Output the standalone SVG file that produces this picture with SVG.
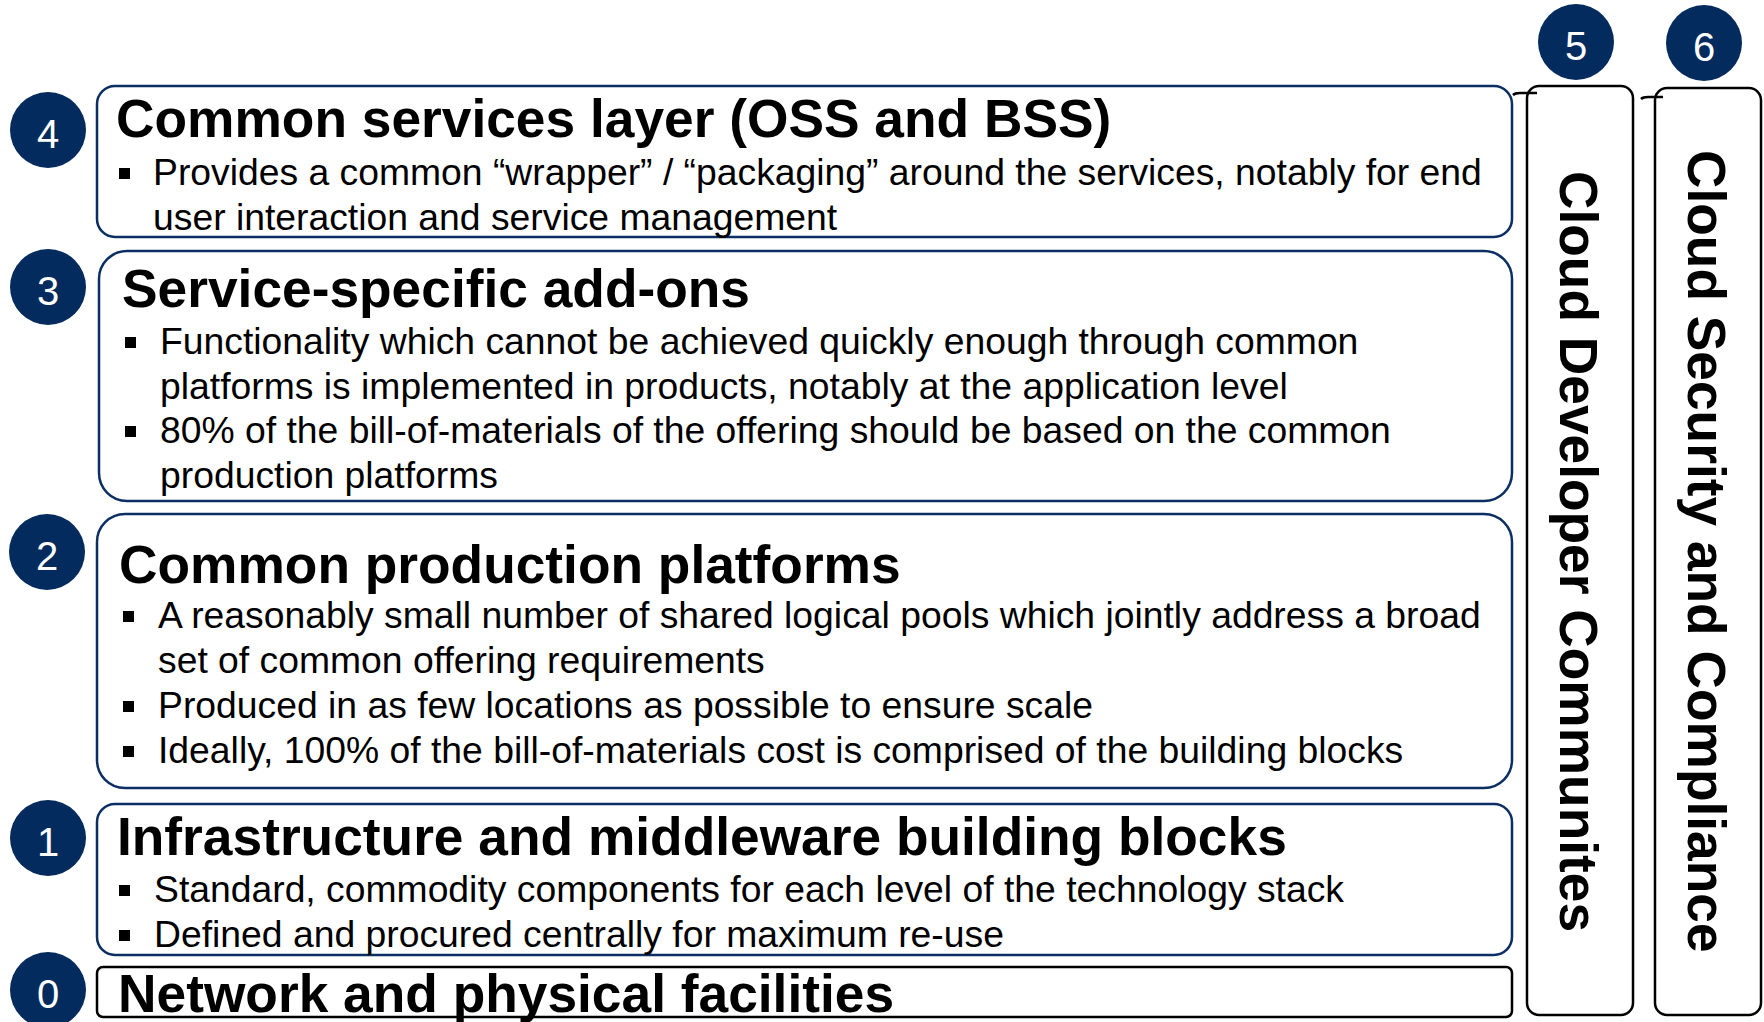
<svg xmlns="http://www.w3.org/2000/svg" width="1764" height="1022" viewBox="0 0 1764 1022">
<style>
.box{fill:#fff;stroke:#0B2F63;stroke-width:2.5}
.bbox{fill:#fff;stroke:#000;stroke-width:2.5}
.circ{fill:#032B5E}
.num{font-family:"Liberation Sans",Arial,sans-serif;font-size:40px;fill:#fff;text-anchor:middle}
.title{font-family:"Liberation Sans",Arial,sans-serif;font-size:53.3px;font-weight:bold;fill:#000}
.txt{font-family:"Liberation Sans",Arial,sans-serif;font-size:37.3px;fill:#000}
.bul{fill:#000}
.tick{fill:none;stroke:#000;stroke-width:2.5}
</style>
<rect width="1764" height="1022" fill="#fff"/>
<g id="layer4">
<rect class="box" x="97" y="86" width="1415" height="151" rx="18"/>
<circle class="circ" cx="48" cy="130" r="38"/>
<text class="num" x="48" y="148">4</text>
<text class="title" x="116" y="137">Common services layer (OSS and BSS)</text>
<rect class="bul" x="119" y="168" width="11" height="11"/>
<text class="txt" x="153" y="185">Provides a common “wrapper” / “packaging” around the services, notably for end</text>
<text class="txt" x="153" y="230">user interaction and service management</text>
</g>
<g id="layer3">
<rect class="box" x="99" y="251" width="1413" height="250" rx="28"/>
<circle class="circ" cx="48" cy="287" r="38"/>
<text class="num" x="48" y="305">3</text>
<text class="title" x="122" y="307">Service-specific add-ons</text>
<rect class="bul" x="125" y="337" width="11" height="11"/>
<text class="txt" x="160" y="354">Functionality which cannot be achieved quickly enough through common</text>
<text class="txt" x="160" y="399">platforms is implemented in products, notably at the application level</text>
<rect class="bul" x="125" y="426" width="11" height="11"/>
<text class="txt" x="160" y="443">80% of the bill-of-materials of the offering should be based on the common</text>
<text class="txt" x="160" y="488">production platforms</text>
</g>
<g id="layer2">
<rect class="box" x="97" y="514" width="1415" height="274" rx="28"/>
<circle class="circ" cx="47" cy="552" r="38"/>
<text class="num" x="47" y="570">2</text>
<text class="title" x="119" y="583">Common production platforms</text>
<rect class="bul" x="123" y="611" width="11" height="11"/>
<text class="txt" x="158" y="628">A reasonably small number of shared logical pools which jointly address a broad</text>
<text class="txt" x="158" y="673">set of common offering requirements</text>
<rect class="bul" x="123" y="701" width="11" height="11"/>
<text class="txt" x="158" y="718">Produced in as few locations as possible to ensure scale</text>
<rect class="bul" x="123" y="746" width="11" height="11"/>
<text class="txt" x="158" y="763">Ideally, 100% of the bill-of-materials cost is comprised of the building blocks</text>
</g>
<g id="layer1">
<rect class="box" x="97" y="804" width="1415" height="151" rx="18"/>
<circle class="circ" cx="48" cy="838" r="38"/>
<text class="num" x="48" y="856">1</text>
<text class="title" x="117" y="855">Infrastructure and middleware building blocks</text>
<rect class="bul" x="119" y="885" width="11" height="11"/>
<text class="txt" x="154" y="902">Standard, commodity components for each level of the technology stack</text>
<rect class="bul" x="119" y="930" width="11" height="11"/>
<text class="txt" x="154" y="947">Defined and procured centrally for maximum re-use</text>
</g>
<g id="layer0">
<rect class="bbox" x="97" y="967" width="1415" height="50" rx="6"/>
<circle class="circ" cx="48" cy="990" r="38"/>
<text class="num" x="48" y="1008">0</text>
<text class="title" x="118" y="1012">Network and physical facilities</text>
</g>
<g id="column5">
<rect class="bbox" x="1527" y="86" width="106" height="929" rx="12"/>
<path class="tick" d="M1513,95 Q1515,93 1520,93 L1537,93"/>
<circle class="circ" cx="1576" cy="42" r="38"/>
<text class="num" x="1576" y="60">5</text>
<text class="title" transform="translate(1560,171) rotate(90)">Cloud Developer Communites</text>
</g>
<g id="column6">
<rect class="bbox" x="1655" y="88" width="106" height="927" rx="12"/>
<path class="tick" d="M1641,99 Q1643,97 1648,97 L1663,97"/>
<circle class="circ" cx="1704" cy="43" r="38"/>
<text class="num" x="1704" y="61">6</text>
<text class="title" transform="translate(1688,150) rotate(90)">Cloud Security and Compliance</text>
</g>
<g id="connectors"></g>
</svg>
